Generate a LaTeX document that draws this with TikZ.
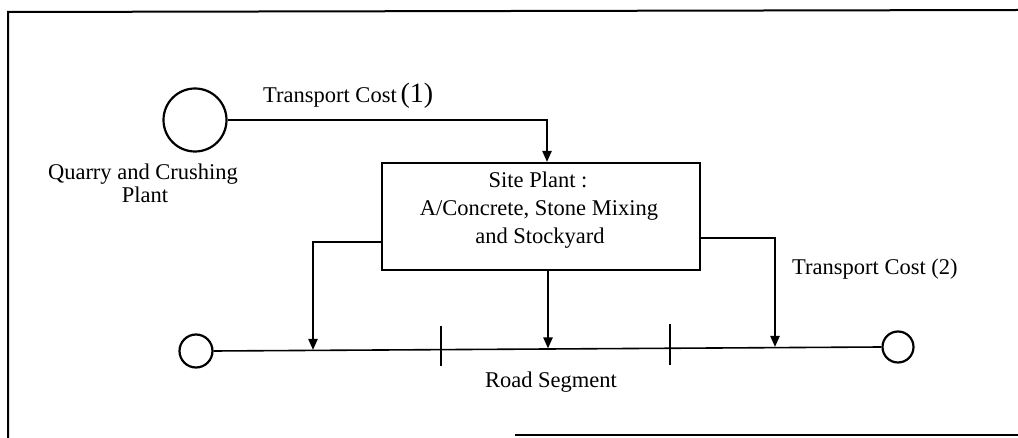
\documentclass[tikz,border=0pt]{standalone}
\usepackage{fontspec}
\setmainfont{Liberation Serif}
\usetikzlibrary{arrows.meta}
\begin{document}
\begin{tikzpicture}[x=1pt,y=-1pt,
  every node/.style={font=\fontsize{22.5}{28}\selectfont},
  txt/.style={anchor=base,inner sep=0pt},
  ring/.style={circle,draw,line width=2.2pt,inner sep=0pt},
  arr/.style={line width=2.2pt,-{Triangle[length=11pt,width=9pt]}},
  frame/.style={line width=2pt},
  road/.style={line width=1.6pt},
  tick/.style={line width=2.4pt}]
\useasboundingbox (0,0) rectangle (1018,438);
% frame
\coordinate (f1) at (1018,10);
\coordinate (f2) at (8,12);
\coordinate (f3) at (8,438);
\coordinate (f4) at (515,435);
\coordinate (f5) at (1018,435);
\draw[frame] (f1) -- (f2) -- (f3);
\draw[frame] (f4) -- (f5);
% quarry
\node[ring,minimum size=63pt] (q) at (195,120) {};
\node[txt] (qt1) at (143,180) {Quarry and Crushing};
\node[txt] (qt2) at (145,203) {Plant};
% site plant box
\node[draw,line width=2pt,minimum width=318pt,minimum height=107pt,inner sep=0pt] (sp) at (541,216.5) {};
\node[txt] (s1) at (538,188) {Site Plant :};
\node[txt] (s2) at (539,216) {A/Concrete, Stone Mixing};
\node[txt] (s3) at (540,244) {and Stockyard};
% transport cost (1)
\node[txt,anchor=base west] (tc1) at (263,103) {Transport Cost\,{\fontsize{28}{28}\selectfont(1)}};
\draw[arr] (q.east) -| ([xshift=6pt]sp.north);
% road
\node[ring,minimum size=33pt] (lr) at (196,351) {};
\node[ring,minimum size=31pt] (rr) at (898,347) {};
\draw[road] (lr.east) -- (rr.west);
\coordinate (ra) at (313,350);
\coordinate (rb) at (548,348.5);
\coordinate (rc) at (775,347);
\coordinate (k1a) at (441,326);
\coordinate (k1b) at (441,366);
\coordinate (k2a) at (670,324);
\coordinate (k2b) at (670,365);
\draw[tick] (k1a) -- (k1b);
\draw[tick] (k2a) -- (k2b);
\draw[arr] ([yshift=-25.5pt]sp.west) -| (ra);
\draw[arr] (rb |- sp.south) -- (rb);
\draw[arr] ([yshift=-21.5pt]sp.east) -| (rc);
\node[txt,anchor=base west] (tc2) at (792,275) {Transport Cost (2)};
\node[txt] (rs) at (551,388) {Road Segment};
\end{tikzpicture}
\end{document}
